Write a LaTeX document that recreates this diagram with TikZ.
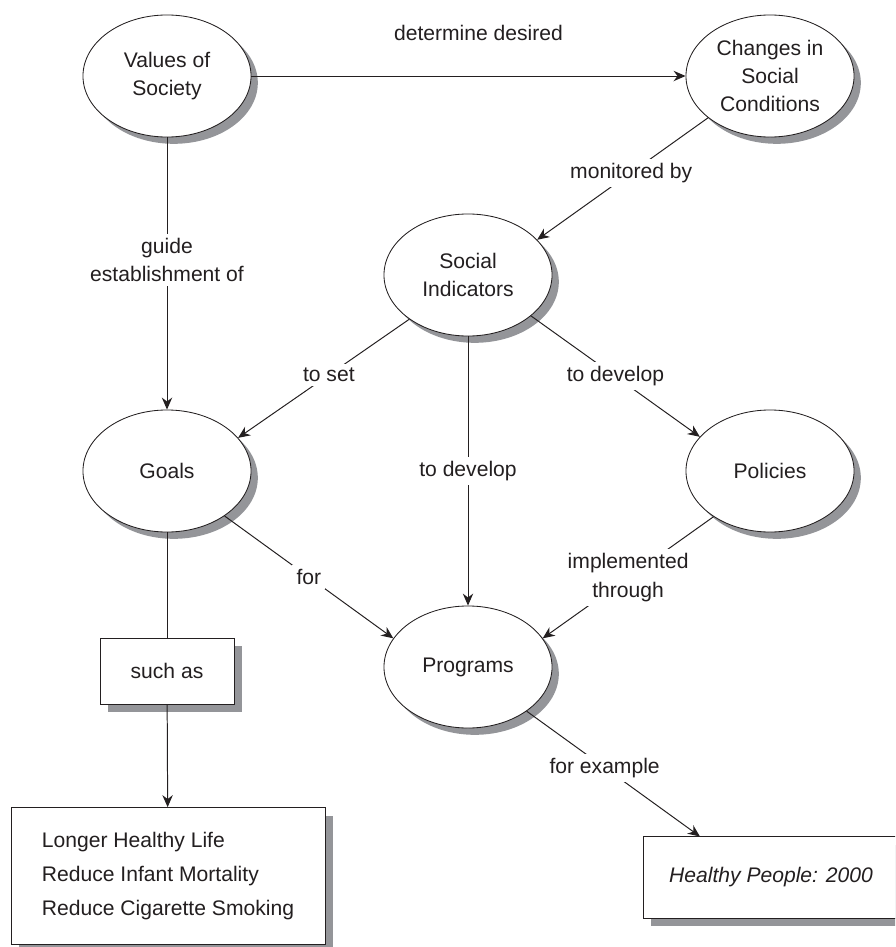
\documentclass[tikz,border=0pt]{standalone}
\usepackage{fontspec}
\setmainfont{Liberation Sans}
\usetikzlibrary{arrows.meta,shapes.geometric,shadows}
\definecolor{shadowGray}{RGB}{148,149,153}
\definecolor{inkColor}{RGB}{35,31,32}

\begin{document}
\begin{tikzpicture}[x=0.025cm,y=-0.025cm,>={Stealth[length=3mm,width=2.6mm]},
 font=\fontsize{15}{20}\selectfont,color=inkColor,
 concept/.style={draw,ellipse,fill=white,align=center,minimum width=4.2cm,minimum height=3.05cm,line width=0.6pt,
  drop shadow={shadow xshift=0.17cm,shadow yshift=-0.17cm,fill=shadowGray,opacity=1}},
 example/.style={draw,rectangle,fill=white,line width=0.6pt,
  drop shadow={shadow xshift=0.2cm,shadow yshift=-0.2cm,fill=shadowGray,opacity=1}},
 arrow/.style={->,line width=0.7pt},link/.style={line width=0.7pt},
 lbl/.style={fill=white,inner sep=3pt,align=center}]
\clip (0,0) rectangle (895,947);
\node[concept] (values) at (167,76) {Values of\\Society};
\node[concept] (changes) at (770,76) {Changes in\\Social\\Conditions};
\node[concept] (indicators) at (468,275) {Social\\Indicators};
\node[concept] (goals) at (167,471) {Goals};
\node[concept] (policies) at (770,471) {Policies};
\node[concept] (programs) at (468,667) {Programs};
\node[example,minimum width=3.35cm,minimum height=1.65cm] (such) at (167,671) {such as};
\node[example,align=left,minimum width=7.85cm,minimum height=3.42cm,
 font=\fontsize{15}{24.5}\selectfont] (aims) at (168,876) {Longer Healthy Life\\Reduce Infant Mortality\\Reduce Cigarette Smoking};
\node[example,minimum width=6.4cm,minimum height=2.03cm] (hp) at (771,877.5) {\textit{Healthy People: 2000}};
\draw[arrow] (values) -- node[midway,xshift=0.25cm,yshift=1.08cm] {determine desired} (changes);
\draw[arrow] (changes.214) -- node[lbl,pos=0.45] {monitored by} (indicators.27);
\draw[arrow] (values) -- node[lbl,pos=0.45] {guide\\establishment of} (goals);
\draw[arrow] (indicators.217) -- node[lbl,pos=0.47] {to set} (goals.25);
\draw[arrow] (indicators) -- node[lbl] {to develop} (programs);
\draw[arrow] (indicators.327) -- node[lbl] {to develop} (policies.154);
\draw[arrow] (goals.322) -- node[lbl] {for} (programs.159);
\draw[arrow] (policies.219) -- node[lbl] {implemented\\through} (programs.21);
\draw[link] (goals) -- (such);
\draw[arrow] (such) -- (aims);
\draw[arrow] (programs.323) -- node[lbl,pos=0.45] {for example} (hp.150.6);
\end{tikzpicture}
\end{document}
